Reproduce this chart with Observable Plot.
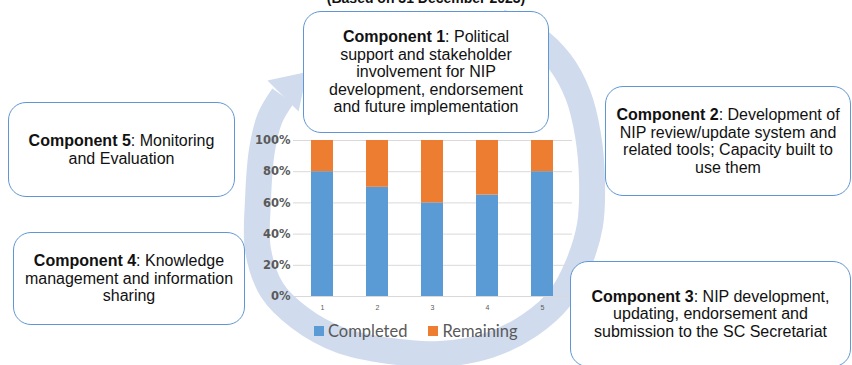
<!DOCTYPE html>
<html>
<head>
<meta charset="utf-8">
<script src="https://cdn.jsdelivr.net/npm/d3@7"></script>
<script src="https://cdn.jsdelivr.net/npm/@observablehq/plot@0.6"></script>
<style>
  html, body { margin: 0; padding: 0; background: #fff; }
  #stage { position: relative; width: 852px; height: 365px; overflow: hidden; font-family: "Liberation Sans", Arial, sans-serif; }
  #ring { position: absolute; left: 0; top: 0; }
  #chart { position: absolute; left: 250px; top: 125px; }
  #legend { position: absolute; left: 314px; top: 324px; }
  .box {
    position: absolute; box-sizing: border-box; background: #fff;
    border: 1.3px solid #5F96D4; border-radius: 18px;
    display: flex; align-items: center; justify-content: center; text-align: center;
    font-size: 16px; line-height: 17.5px; color: #111;
  }
  .box b { font-weight: bold; }
  #legend .lg-swatches { font-family: Lato, sans-serif !important; font-size: 16.5px !important; color: #595959 !important; margin: 0 !important; }
  #legend .lg-swatches-wrap { min-height: 0 !important; height: 14px !important; flex-wrap: nowrap !important; }
  #legend .lg-swatch { margin-right: 21px !important; }
  #legend .lg-swatch > svg { margin-right: 4px !important; }
</style>
</head>
<body>
<div id="stage">
  <svg id="ring" width="852" height="365"></svg>
  <div id="chart"></div>
  <div id="legend"></div>
</div>
<script>
// Completion of each NIP component (percent)
const components = ["1", "2", "3", "4", "5"];
const completed = [80, 70, 60, 65, 80];
const remaining = [20, 30, 40, 35, 20];
const statuses = ["Completed", "Remaining"];
const statusColors = ["#5B9BD5", "#ED7D31"];
const yTicks = [0, 20, 40, 60, 80, 100];

const title = "(Based on 31 December 2023)";
const boxes = [
  {id: "c1", head: "Component 1", lines: [": Political", "support and stakeholder", "involvement for NIP", "development, endorsement", "and future implementation"], left: 303, top: 11, width: 246, height: 122},
  {id: "c2", head: "Component 2", lines: [": Development of", "NIP review/update system and", "related tools; Capacity built to", "use them"], left: 605, top: 86, width: 246, height: 110},
  {id: "c3", head: "Component 3", lines: [": NIP development,", "updating, endorsement and", "submission to the SC Secretariat"], left: 570, top: 261, width: 281, height: 106},
  {id: "c4", head: "Component 4", lines: [": Knowledge", "management and information", "sharing"], left: 13, top: 232, width: 232, height: 93},
  {id: "c5", head: "Component 5", lines: [": Monitoring", "and Evaluation"], left: 8, top: 102, width: 227, height: 95}
];

// Centre line of the circular arrow running clockwise behind the components
const ringPath = [
  [500, 22], [535, 38], [560, 62], [578, 95], [588, 135], [592, 180], [590, 225],
  [578, 265], [560, 298], [530, 325], [490, 345], [440, 354], [390, 351], [340, 340],
  [300, 318], [272, 290], [258, 250], [258, 200], [262, 150], [270, 118], [283, 96]
];

// ---- circular arrow and title ----
const ring = d3.select("#ring");
const ringColor = "#D0DCEE";
ring.append("path")
  .attr("d", d3.line().curve(d3.curveCatmullRom)(ringPath))
  .attr("fill", "none")
  .attr("stroke", ringColor)
  .attr("stroke-width", 26);
{
  const [x1, y1] = ringPath[ringPath.length - 2];
  const [x2, y2] = ringPath[ringPath.length - 1];
  let dx = x2 - x1, dy = y2 - y1;
  const len = Math.hypot(dx, dy);
  dx /= len; dy /= len;
  // bend the head slightly further toward the top of the loop
  const a = Math.atan2(dy, dx) + 0.25;
  const ux = Math.cos(a), uy = Math.sin(a);
  const px = -uy, py = ux;
  const half = 22, headLen = 34;
  const pts = [
    [x2 + px * half, y2 + py * half],
    [x2 + ux * headLen, y2 + uy * headLen],
    [x2 - px * half, y2 - py * half]
  ];
  ring.append("polygon").attr("points", pts.map(p => p.join(",")).join(" ")).attr("fill", ringColor);
}
ring.append("text")
  .attr("x", 426).attr("y", 3)
  .attr("text-anchor", "middle")
  .attr("font-family", "Liberation Sans, Arial, sans-serif")
  .attr("font-weight", "bold")
  .attr("font-size", 14)
  .attr("fill", "#111")
  .text(title);

// ---- stacked bar chart ----
const rows = components.flatMap((c, i) => [
  {component: c, status: statuses[0], value: completed[i]},
  {component: c, status: statuses[1], value: remaining[i]}
]);

const chart = Plot.plot({
  width: 330,
  height: 200,
  marginLeft: 43,
  marginRight: 8,
  marginTop: 15,
  marginBottom: 29,
  style: {background: "transparent", overflow: "visible"},
  x: {domain: components, paddingInner: 0.6, paddingOuter: 0.3, label: null},
  y: {domain: [0, 100], label: null},
  color: {domain: statuses, range: statusColors},
  marks: [
    Plot.gridY(yTicks, {stroke: "#D9D9D9", strokeOpacity: 1, strokeWidth: 1}),
    Plot.barY(rows, {x: "component", y: "value", fill: "status"}),
    Plot.axisX({tickSize: 0, tickPadding: 9, fontSize: 7, fill: "#595959", fontFamily: "Liberation Sans, Arial, sans-serif"}),
    Plot.axisY(yTicks, {tickSize: 0, tickPadding: 3, tickFormat: d => d + "%", fontSize: 11.5, fontWeight: "bold", fill: "#595959", fontFamily: "DejaVu Sans, sans-serif"})
  ]
});
document.getElementById("chart").appendChild(chart);

// ---- legend ----
const legend = Plot.legend({
  color: {type: "ordinal", domain: statuses, range: statusColors},
  legend: "swatches",
  className: "lg",
  swatchSize: 10
});
document.getElementById("legend").appendChild(legend);

// ---- component boxes ----
const stage = document.getElementById("stage");
for (const b of boxes) {
  const div = document.createElement("div");
  div.className = "box";
  div.id = b.id;
  Object.assign(div.style, {left: b.left + "px", top: b.top + "px", width: b.width + "px", height: b.height + "px"});
  const inner = document.createElement("div");
  const strong = document.createElement("b");
  strong.textContent = b.head;
  inner.appendChild(strong);
  b.lines.forEach((line, i) => {
    if (i > 0) inner.appendChild(document.createElement("br"));
    inner.appendChild(document.createTextNode(line));
  });
  div.appendChild(inner);
  stage.appendChild(div);
}
</script>
</body>
</html>
